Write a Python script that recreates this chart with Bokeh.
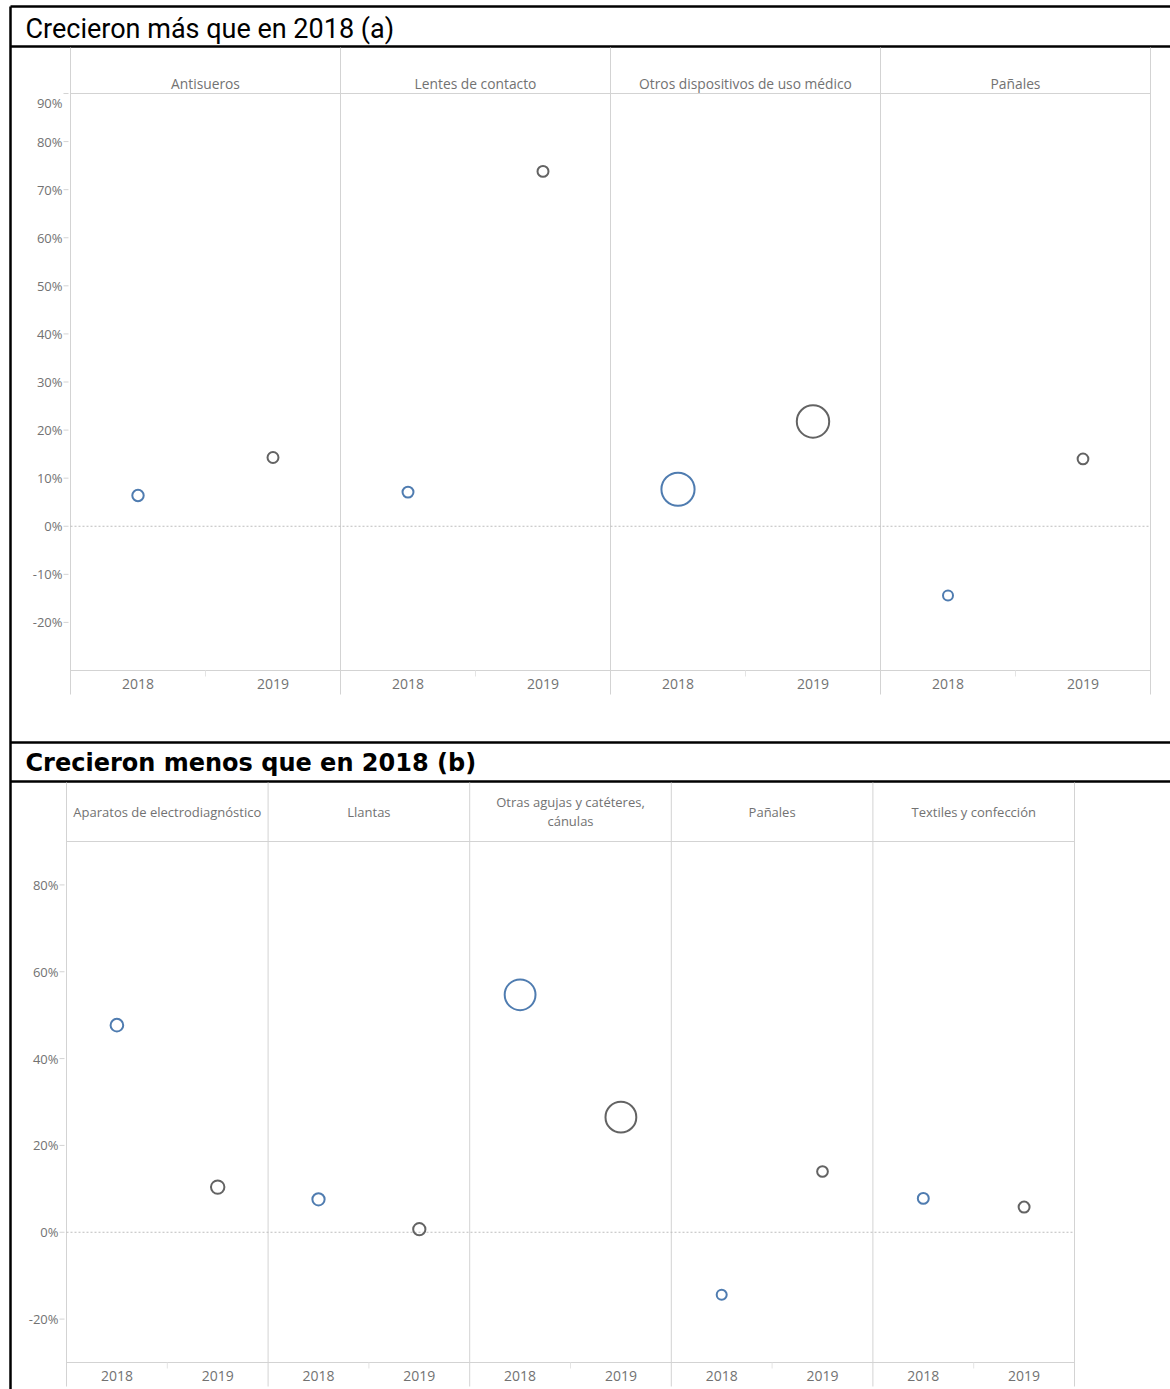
import math
from bokeh.plotting import figure
from bokeh.models import ColumnDataSource, Range1d
from bokeh.core.properties import value
from bokeh.embed import file_html
from bokeh.resources import INLINE

# ---------------- data ----------------
years = ["2018", "2019"]

title_a = "Crecieron más que en 2018 (a)"
categories_a = ["Antisueros", "Lentes de contacto",
                "Otros dispositivos de uso médico", "Pañales"]
growth_a_2018 = [6.4, 7.1, 7.7, -14.4]
growth_a_2019 = [14.3, 73.8, 21.8, 14.0]
weight_a_2018 = [1.3, 1.2, 11.0, 1.0]
weight_a_2019 = [1.2, 1.2, 10.5, 1.15]
yticks_a = [-20, -10, 0, 10, 20, 30, 40, 50, 60, 70, 80, 90]

title_b = "Crecieron menos que en 2018 (b)"
categories_b = ["Aparatos de electrodiagnóstico", "Llantas",
                "Otras agujas y catéteres,\ncánulas", "Pañales",
                "Textiles y confección"]
growth_b_2018 = [47.7, 7.6, 54.7, -14.4, 7.8]
growth_b_2019 = [10.4, 0.7, 26.5, 14.0, 5.8]
weight_b_2018 = [1.6, 1.5, 9.5, 1.0, 1.2]
weight_b_2019 = [1.8, 1.5, 9.5, 1.15, 1.2]
yticks_b = [-20, 0, 20, 40, 60, 80]

y_lo, y_hi = -30, 90

# ---------------- layout / style ----------------
PAGE_W, PAGE_H = 1170, 1389
FONT = "Open Sans"
SEP = "#d3d3d3"
TXT = "#727272"
COLORS = {"2018": "#4f7cb0", "2019": "#636363"}

geo_a = dict(left=70, right=1150, bar_top=6, head_top=46, top=93, bottom=670,
             foot=694, head_mid=83, ylab_x=62, title_y=28,
             title_font="Roboto", title_size="27px", title_style="normal",
             head_size="13.8px")
geo_b = dict(left=66, right=1074, bar_top=742, head_top=781, top=841,
             bottom=1362, foot=1386, head_mid=811, ylab_x=58, title_y=762,
             title_font="DejaVu Sans", title_size="24px", title_style="bold",
             head_size="13px")
FRAME_X = 10

p = figure(width=PAGE_W, height=PAGE_H, x_range=Range1d(0, PAGE_W),
           y_range=Range1d(PAGE_H, 0), toolbar_location=None,
           output_backend="svg", x_axis_type=None, y_axis_type=None,
           min_border=0, outline_line_color=None)

extra_x, extra_y = {}, {}


def section(key, title, cats, v18, v19, w18, w19, yticks, g):
    n = len(cats)
    ux = 4 * n / (g["right"] - g["left"])
    uy = (y_hi - y_lo) / (g["bottom"] - g["top"])
    xr, yr = "x" + key, "y" + key
    extra_x[xr] = Range1d(-g["left"] * ux, 4 * n + (PAGE_W - g["right"]) * ux)
    extra_y[yr] = Range1d(y_lo - (PAGE_H - g["bottom"]) * uy,
                          y_hi + g["top"] * uy)

    def row_y(r):
        return y_hi + (g["top"] - r) * uy

    kw = dict(x_range_name=xr, y_range_name=yr)
    centers = [4 * i + 2 for i in range(n)]
    bounds = [4 * i for i in range(n + 1)]

    # black title bar lines and title
    p.segment(x0=[FRAME_X, FRAME_X], x1=[PAGE_W, PAGE_W],
              y0=[g["bar_top"], g["head_top"]], y1=[g["bar_top"], g["head_top"]],
              line_color="black", line_width=2.5)
    p.text(x=[25], y=[g["title_y"]], text=[title], text_font=value(g["title_font"]),
           text_font_size=g["title_size"], text_font_style=g["title_style"],
           text_color="black", text_baseline="middle", text_align="left")

    # panel separators, header / footer lines, zero line
    p.segment(x0=bounds, x1=bounds, y0=[row_y(g["head_top"] + 1)] * len(bounds),
              y1=[row_y(g["foot"])] * len(bounds), line_color=SEP, line_width=1, **kw)
    p.segment(x0=[0, 0], x1=[4 * n, 4 * n], y0=[y_hi, y_lo], y1=[y_hi, y_lo],
              line_color=SEP, line_width=1, **kw)
    p.segment(x0=[0], x1=[4 * n], y0=[0], y1=[0], line_color="#bdbdbd",
              line_width=1, line_dash="2 2", **kw)
    p.segment(x0=centers, x1=centers, y0=[y_lo] * n,
              y1=[row_y(g["bottom"] + 6)] * n, line_color="#e4e4e4",
              line_width=1, **kw)

    # y axis: ticks and labels
    p.segment(x0=[g["left"] - 7] * len(yticks), x1=[g["left"] - 2] * len(yticks),
              y0=yticks, y1=yticks, line_color=SEP, line_width=1, y_range_name=yr)
    inner = [t for t in yticks if t < y_hi]
    edge = [t for t in yticks if t >= y_hi]
    p.text(x=[g["ylab_x"]] * len(inner), y=inner, text=[f"{t}%" for t in inner],
           text_align="right", text_baseline="middle", text_font=value(FONT),
           text_font_size="13px", text_color=TXT, y_range_name=yr)
    if edge:
        p.text(x=[g["ylab_x"]] * len(edge), y=edge, text=[f"{t}%" for t in edge],
               text_align="right", text_baseline="top", text_font=value(FONT),
               text_font_size="13px", text_color=TXT, y_range_name=yr)

    # header labels (categories)
    p.text(x=centers, y=[row_y(g["head_mid"])] * n, text=cats,
           text_align="center", text_baseline="middle", text_font=value(FONT),
           text_font_size=g["head_size"], text_color=TXT, text_line_height=1.05,
           **kw)

    # year labels
    xs_lab, txt_lab = [], []
    for i in range(n):
        for j, yr_name in enumerate(years):
            xs_lab.append(4 * i + 1 + 2 * j)
            txt_lab.append(yr_name)
    p.text(x=xs_lab, y=[row_y((g["bottom"] + g["foot"]) / 2 + 1)] * len(xs_lab),
           text=txt_lab, text_align="center", text_baseline="middle",
           text_font=value(FONT), text_font_size="14px", text_color=TXT, **kw)

    # data points
    xs, ys, sz, col = [], [], [], []
    for i in range(n):
        for j, (vals, wts) in enumerate([(v18, w18), (v19, w19)]):
            xs.append(4 * i + 1 + 2 * j)
            ys.append(vals[i])
            sz.append(10 * math.sqrt(wts[i]))
            col.append(COLORS[years[j]])
    src = ColumnDataSource(dict(x=xs, y=ys, size=sz, color=col))
    p.scatter("x", "y", size="size", source=src, marker="circle",
              fill_alpha=0, line_color="color", line_width=2, **kw)


section("a", title_a, categories_a, growth_a_2018, growth_a_2019,
        weight_a_2018, weight_a_2019, yticks_a, geo_a)
section("b", title_b, categories_b, growth_b_2018, growth_b_2019,
        weight_b_2018, weight_b_2019, yticks_b, geo_b)

p.extra_x_ranges = extra_x
p.extra_y_ranges = extra_y

# left black border
p.segment(x0=[FRAME_X], x1=[FRAME_X], y0=[geo_a["bar_top"]], y1=[PAGE_H],
          line_color="black", line_width=2.5)

open("out.html", "w").write(file_html(p, INLINE))
